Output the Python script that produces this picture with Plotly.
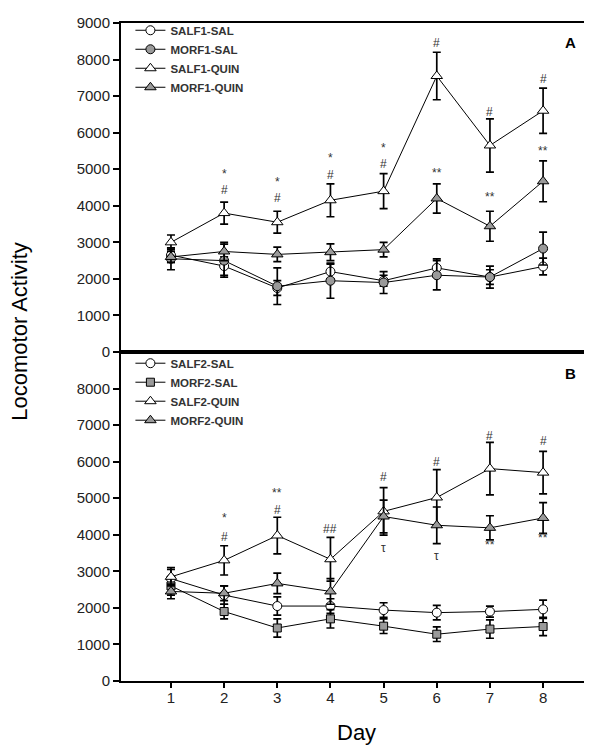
import plotly.graph_objects as go

days = [1, 2, 3, 4, 5, 6, 7, 8]

# Panel A
salf1_sal = [2650, 2350, 1750, 2200, 1950, 2300, 2050, 2340]
salf1_sal_err = [200, 250, 200, 200, 150, 250, 300, 230]
morf1_sal = [2550, 2500, 1800, 1950, 1900, 2100, 2050, 2830]
morf1_sal_err = [300, 450, 500, 480, 300, 400, 200, 450]
salf1_quin = [3000, 3800, 3550, 4150, 4400, 7550, 5650, 6600]
salf1_quin_err = [200, 300, 300, 450, 480, 650, 730, 620]
morf1_quin = [2600, 2750, 2670, 2730, 2800, 4200, 3440, 4670]
morf1_quin_err = [150, 250, 200, 230, 200, 400, 410, 560]

# Panel B
salf2_sal = [2800, 2350, 2050, 2050, 1940, 1870, 1900, 1960]
salf2_sal_err = [250, 250, 250, 200, 200, 200, 150, 250]
morf2_sal = [2600, 1900, 1450, 1700, 1500, 1280, 1420, 1490]
morf2_sal_err = [250, 200, 250, 250, 200, 200, 250, 250]
salf2_quin = [2850, 3300, 3980, 3330, 4640, 5020, 5810, 5700]
salf2_quin_err = [250, 400, 500, 600, 650, 760, 720, 580]
morf2_quin = [2450, 2400, 2670, 2450, 4500, 4260, 4190, 4460]
morf2_quin_err = [200, 200, 280, 350, 450, 500, 330, 420]

# significance marks: (day, text, y-position in data units)
marks_a_days = [2, 2, 3, 3, 4, 4, 5, 5, 6, 6, 7, 7, 8, 8]
marks_a_text = ["#", "*", "#", "*", "#", "*", "#", "*", "#", "**", "#", "**", "#", "**"]
marks_a_y = [4420, 4880, 4200, 4660, 4830, 5320, 5150, 5590, 8450, 4910, 6570, 4230, 7470, 5510]
marks_b_days = [2, 2, 3, 3, 4, 5, 5, 6, 6, 7, 7, 8, 8]
marks_b_text = ["#", "*", "#", "**", "##", "#", "τ", "#", "τ", "#", "**", "#", "**"]
marks_b_y = [3930, 4450, 4690, 5150, 4170, 5590, 3650, 6000, 3430, 6710, 3710, 6570, 3900]

y_ticks_a = [0, 1000, 2000, 3000, 4000, 5000, 6000, 7000, 8000, 9000]
y_ticks_b = [0, 1000, 2000, 3000, 4000, 5000, 6000, 7000, 8000]

FONT = "Arial, Liberation Sans, sans-serif"
GRAY = "#9a9a9a"

fig = go.Figure()


def add(name, y, err, symbol, fill, xa, ya, legend, size):
    fig.add_trace(go.Scatter(
        x=days, y=y, name=name, mode="lines+markers",
        xaxis=xa, yaxis=ya, legend=legend,
        line=dict(color="black", width=1),
        marker=dict(symbol=symbol, size=size, color=fill,
                    line=dict(color="black", width=1)),
        error_y=dict(type="data", array=err, visible=True,
                     color="black", thickness=1.7, width=4),
    ))


add("SALF1-SAL", salf1_sal, salf1_sal_err, "circle", "white", "x", "y", "legend", 9)
add("MORF1-SAL", morf1_sal, morf1_sal_err, "circle", GRAY, "x", "y", "legend", 9)
add("SALF1-QUIN", salf1_quin, salf1_quin_err, "triangle-up", "white", "x", "y", "legend", 10)
add("MORF1-QUIN", morf1_quin, morf1_quin_err, "triangle-up", GRAY, "x", "y", "legend", 10)

add("SALF2-SAL", salf2_sal, salf2_sal_err, "circle", "white", "x2", "y2", "legend2", 9)
add("MORF2-SAL", morf2_sal, morf2_sal_err, "square", GRAY, "x2", "y2", "legend2", 8)
add("SALF2-QUIN", salf2_quin, salf2_quin_err, "triangle-up", "white", "x2", "y2", "legend2", 10)
add("MORF2-QUIN", morf2_quin, morf2_quin_err, "triangle-up", GRAY, "x2", "y2", "legend2", 10)

annotations = []
for d, t, yv in zip(marks_a_days, marks_a_text, marks_a_y):
    annotations.append(dict(x=d, y=yv, xref="x", yref="y", text=t, showarrow=False,
                            xanchor="center", yanchor="middle",
                            font=dict(family=FONT, size=12, color="#333")))
for d, t, yv in zip(marks_b_days, marks_b_text, marks_b_y):
    annotations.append(dict(x=d, y=yv, xref="x2", yref="y2", text=t, showarrow=False,
                            xanchor="center", yanchor="middle",
                            font=dict(family=FONT, size=12, color="#333")))

annotations += [
    dict(x=0.955, y=0.971, xref="paper", yref="paper", text="<b>A</b>", showarrow=False,
         xanchor="center", yanchor="middle",
         font=dict(family=FONT, size=15, color="black")),
    dict(x=0.955, y=0.467, xref="paper", yref="paper", text="<b>B</b>", showarrow=False,
         xanchor="center", yanchor="middle",
         font=dict(family=FONT, size=15, color="black")),
    dict(x=-0.215, y=0.532, xref="paper", yref="paper", text="Locomotor Activity",
         textangle=-90, showarrow=False, xanchor="center", yanchor="middle",
         font=dict(family=FONT, size=22, color="black")),
    dict(x=0.5, y=-0.079, xref="paper", yref="paper", text="Day", showarrow=False,
         xanchor="center", yanchor="middle",
         font=dict(family=FONT, size=22, color="black")),
]

xcommon = dict(range=[0.06, 8.92], showgrid=False, zeroline=False, showline=True,
               linecolor="black", linewidth=2, mirror=True, tickvals=days,
               tickfont=dict(family=FONT, size=15, color="#222"))
ycommon = dict(range=[0, 9000], showgrid=False, zeroline=False, showline=True,
               linecolor="black", linewidth=2, mirror=True, ticks="outside",
               ticklen=6, tickwidth=1.5, tickcolor="black",
               tickfont=dict(family=FONT, size=15, color="#222"))

legend_font = dict(family=FONT, size=11.5, color="#333", weight="bold")

fig.update_layout(
    width=592, height=750,
    margin=dict(l=113, r=6, t=13, b=77),
    paper_bgcolor="white", plot_bgcolor="white",
    xaxis=dict(**xcommon, anchor="y", domain=[0, 1], showticklabels=False, ticks=""),
    yaxis=dict(**ycommon, anchor="x", domain=[0.5, 1], tickvals=y_ticks_a),
    xaxis2=dict(**xcommon, anchor="y2", domain=[0, 1], ticks="outside", ticklen=5,
                tickwidth=1.5, tickcolor="black", ticklabelstandoff=-3),
    yaxis2=dict(**ycommon, anchor="x2", domain=[0, 0.5], tickvals=y_ticks_b),
    legend=dict(x=0.02, y=1.011, xanchor="left", yanchor="top", bgcolor="rgba(0,0,0,0)",
                font=legend_font, itemwidth=30, tracegroupgap=0),
    legend2=dict(x=0.02, y=0.505, xanchor="left", yanchor="top", bgcolor="rgba(0,0,0,0)",
                 font=legend_font, itemwidth=30, tracegroupgap=0),
    annotations=annotations,
    showlegend=True,
)

fig.write_html("out.html")
